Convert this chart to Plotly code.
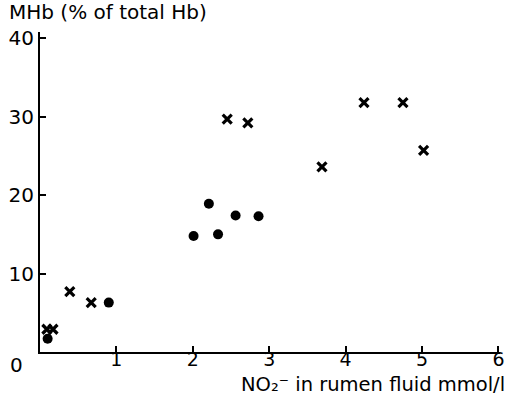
import plotly.graph_objects as go

# Data
cross_x = [0.09, 0.17, 0.39, 0.67, 2.45, 2.72, 3.69, 4.24, 4.75, 5.02]
cross_y = [2.9, 2.9, 7.7, 6.3, 29.7, 29.2, 23.6, 31.8, 31.8, 25.7]
dot_x = [0.10, 0.90, 2.01, 2.21, 2.33, 2.56, 2.86]
dot_y = [1.7, 6.3, 14.8, 18.9, 15.0, 17.4, 17.3]

x_ticks = [1, 2, 3, 4, 5, 6]
y_ticks = [10, 20, 30, 40]

FONT = "DejaVu Sans"

fig = go.Figure()
fig.add_trace(go.Scatter(
    x=cross_x, y=cross_y, mode="markers",
    marker=dict(symbol="x-thin", size=9, color="black",
                line=dict(width=3.2, color="black")),
    showlegend=False, cliponaxis=False))
fig.add_trace(go.Scatter(
    x=dot_x, y=dot_y, mode="markers",
    marker=dict(symbol="circle", size=10, color="black"),
    showlegend=False, cliponaxis=False))

fig.update_layout(
    width=508, height=396,
    margin=dict(l=40, r=8, t=32, b=44, autoexpand=False),
    paper_bgcolor="white", plot_bgcolor="white",
    font=dict(family=FONT, size=20, color="black"),
    xaxis=dict(range=[0, 6.02], tickvals=x_ticks, ticktext=[str(v) for v in x_ticks],
               ticks="inside", ticklen=6, tickwidth=2, tickcolor="black",
               showline=True, linecolor="black", linewidth=2, automargin=False,
               showgrid=False, zeroline=False, ticklabelstandoff=-11,
               tickfont=dict(size=19)),
    yaxis=dict(range=[0, 40.8], tickvals=y_ticks, ticktext=[str(v) for v in y_ticks],
               ticks="inside", ticklen=6, tickwidth=2, tickcolor="black",
               showline=True, linecolor="black", linewidth=2, automargin=False,
               showgrid=False, zeroline=False,
               tickfont=dict(size=20)),
    annotations=[
        dict(text="MHb (% of total Hb)", xref="paper", yref="paper",
             x=-0.072, y=1.0, yshift=34, xanchor="left", yanchor="top",
             showarrow=False, font=dict(size=20)),
        dict(text="NO\u2082\u207b in rumen fluid mmol/l",
             xref="paper", yref="paper", x=1.015, y=0, yshift=-19,
             xanchor="right", yanchor="top", showarrow=False,
             font=dict(size=19.5)),
        dict(text="0", xref="paper", yref="paper", x=0, y=0,
             xshift=-15, yshift=1, xanchor="right", yanchor="top",
             showarrow=False, font=dict(size=20)),
    ],
)

fig.write_html("out.html")
